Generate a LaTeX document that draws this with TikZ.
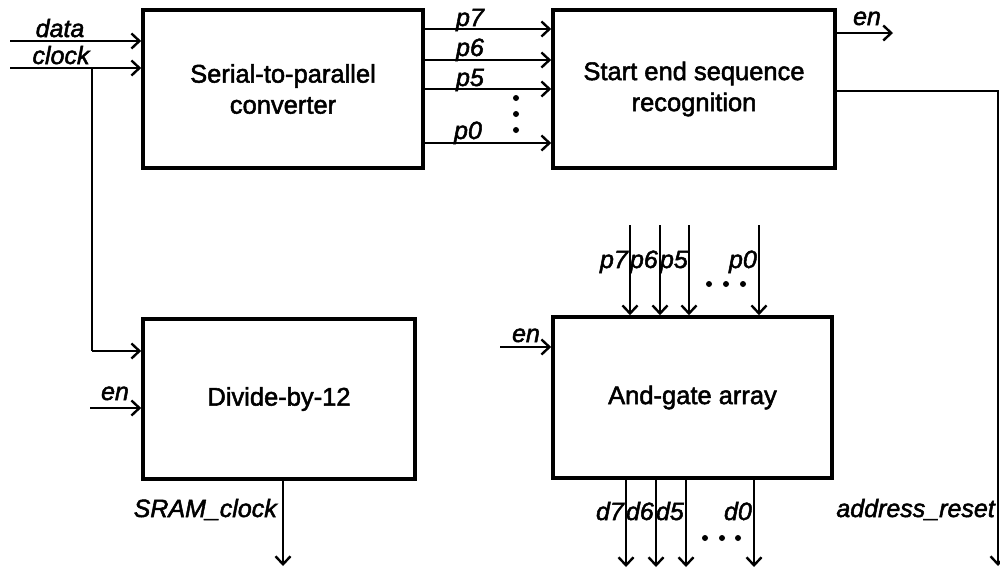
\documentclass[tikz,border=0pt]{standalone}
\usepackage{fontspec}
\setmainfont{Liberation Sans}[FakeBold=2]
\usetikzlibrary{arrows.meta}
\begin{document}
\begin{tikzpicture}[x=1pt,y=-1pt,
  blk/.style={draw,line width=3.6pt,inner sep=0pt,align=center,
    font=\fontsize{25.5}{31}\selectfont},
  wire/.style={line width=2.4pt},
  arr/.style={wire,-{Straight Barb[length=8pt,width=15pt,line width=2.4pt]}},
  lab/.style={font=\fontsize{25}{28}\selectfont\itshape,inner sep=0pt,anchor=base},
  labr/.style={lab,anchor=base east},
  bdot/.style={circle,fill,inner sep=0pt,minimum size=6pt}]
\useasboundingbox (0,0) rectangle (1000,571);

% blocks
\node[blk,minimum width=280pt,minimum height=158pt] (ser) at (283,89) {Serial-to-parallel\\converter};
\node[blk,minimum width=282pt,minimum height=158pt] (sse) at (694,89) {Start end sequence\\recognition};
\node[blk,minimum width=272pt,minimum height=160pt] (div) at (279,399) {Divide-by-12};
\node[blk,minimum width=279pt,minimum height=161pt] (and) at (692.5,397.5) {And-gate array};

% inputs at left
\coordinate (dataL) at (10,41);
\coordinate (clkL) at (10,68);
\coordinate (br) at (92,68);
\coordinate (dc) at (92,351);
\coordinate (enD) at (90,408);
\draw[arr] (dataL) -- (ser.west |- dataL);
\draw[arr] (clkL) -- (ser.west |- clkL);
\draw[wire] (br) -- (dc);
\draw[arr] (dc) -- (div.west |- dc);
\draw[arr] (enD) -- (div.west |- enD);
\node[lab] (ldata) at (60,37) {data};
\node[lab] (lclk) at (61,64) {clock};
\node[lab] (lenD) at (115,400) {en};

% SRAM clock
\coordinate (sramE) at (283,566);
\draw[arr] (div.south -| sramE) -- (sramE);
\node[labr] (lsram) at (277,517) {SRAM\_clock};

% parallel bus
\foreach \yy/\nm in {29/7,60/6,89/5,143/0}{
  \draw[arr] (ser.east |- 0,\yy) -- (sse.west |- 0,\yy);
}
\node[lab] (lp7) at (470,26) {p7};
\node[lab] (lp6) at (470,56) {p6};
\node[lab] (lp5) at (470,86) {p5};
\node[lab] (lp0) at (468,139) {p0};
\node[bdot] (v1) at (516,98) {};
\node[bdot] (v2) at (516,114) {};
\node[bdot] (v3) at (516,130) {};

% en out and address reset
\coordinate (enO) at (893,33);
\draw[arr] (sse.east |- enO) -- (enO);
\node[lab] (lenO) at (867,25) {en};
\coordinate (ar) at (998,91);
\coordinate (arE) at (998,566);
\draw[arr] (sse.east |- ar) -- (ar) -- (arE);
\node[labr] (lar) at (995,517) {address\_reset};

% p inputs to and-gate array
\foreach \xx in {630,660,689,759}{
  \draw[arr] (\xx,225) -- (and.north -| \xx,0);
}
\node[labr] (ap7) at (628,268) {p7};
\node[labr] (ap6) at (658,268) {p6};
\node[labr] (ap5) at (688,268) {p5};
\node[labr] (ap0) at (757,268) {p0};
\node[bdot] (h1) at (709,284) {};
\node[bdot] (h2) at (726,284) {};
\node[bdot] (h3) at (743,284) {};

% en into and-gate
\coordinate (enA) at (500,347);
\draw[arr] (enA) -- (and.west |- enA);
\node[lab] (lenA) at (526,342) {en};

% d outputs
\foreach \xx in {626,656,686,754}{
  \draw[arr] (and.south -| \xx,0) -- (\xx,567);
}
\node[labr] (d7) at (624,520) {d7};
\node[labr] (d6) at (654,520) {d6};
\node[labr] (d5) at (684,520) {d5};
\node[labr] (d0) at (752,520) {d0};
\node[bdot] (g1) at (705,538) {};
\node[bdot] (g2) at (722,538) {};
\node[bdot] (g3) at (738,538) {};
\end{tikzpicture}
\end{document}
